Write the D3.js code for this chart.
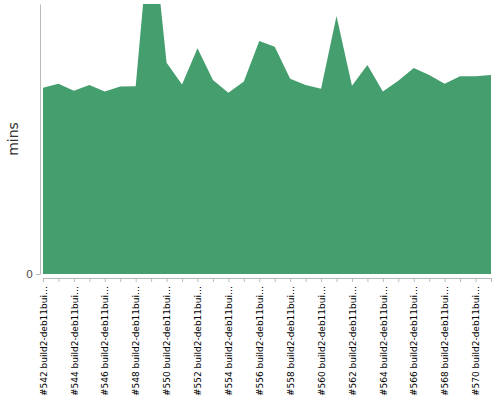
<html>
<head>
<meta charset="utf-8">
<script src="https://d3js.org/d3.v7.min.js"></script>
<style>
  body { margin: 0; font-family: "DejaVu Sans", sans-serif; }
</style>
</head>
<body>
<div id="chart"></div>
<script>
// build numbers (x categories)
var builds = d3.range(542, 572);
var labels = builds.map(function(b) { return "#" + b + " build2-deb11builder"; });
// build duration in minutes
var mins = [48.3, 49.3, 47.5, 49.0, 47.3, 48.6, 48.7, 93.3, 54.8, 49.1,
            58.5, 50.3, 47.0, 49.9, 60.4, 58.9, 50.6, 49.0, 48.0, 66.9,
            48.8, 54.2, 47.3, 50.1, 53.4, 51.6, 49.3, 51.3, 51.3, 51.6];
var yTicks = [0];

var width = 500, height = 400;
var plotLeft = 43, plotRight = 491, plotTop = 4, plotBottom = 274;

var svg = d3.select("#chart").append("svg")
  .attr("width", width)
  .attr("height", height);

var x = d3.scalePoint()
  .domain(labels)
  .range([plotLeft, plotRight]);

var y = d3.scaleLinear()
  .domain([0, 70])
  .range([plotBottom, plotTop]);

svg.append("clipPath").attr("id", "clip")
  .append("rect")
    .attr("x", plotLeft).attr("y", plotTop)
    .attr("width", plotRight - plotLeft).attr("height", plotBottom - plotTop);

var area = d3.area()
  .x(function(d, i) { return x(labels[i]); })
  .y0(y(0))
  .y1(function(d) { return y(d); });

svg.append("path")
  .datum(mins)
  .attr("clip-path", "url(#clip)")
  .attr("fill", "#459e6e")
  .attr("d", area);

// y axis
var yAxis = svg.append("g")
  .attr("transform", "translate(40,0)")
  .call(d3.axisLeft(y).tickValues(yTicks).tickSize(4).tickSizeOuter(0));
yAxis.select(".domain").attr("stroke", "#bbb");
yAxis.selectAll(".tick line").attr("stroke", "#bbb");
yAxis.selectAll(".tick text")
  .attr("fill", "#555")
  .style("font-size", "11px")
  .style("font-family", "DejaVu Sans, sans-serif")
  .attr("x", -7);

svg.append("text")
  .attr("transform", "translate(18," + ((plotTop + plotBottom) / 2) + ") rotate(-90)")
  .attr("text-anchor", "middle")
  .attr("fill", "#333")
  .style("font-size", "14px")
  .style("font-family", "DejaVu Sans, sans-serif")
  .text("mins");

// x axis
var xAxis = svg.append("g")
  .attr("transform", "translate(0,278)")
  .call(d3.axisBottom(x).tickSize(4).tickSizeOuter(0)
    .tickFormat(function(d, i) {
      if (i % 2) return "";
      return d.length > 20 ? d.slice(0, 20) + "…" : d;
    }));
xAxis.select(".domain").attr("stroke", "#bbb");
xAxis.selectAll(".tick line").attr("stroke", "#bbb");
xAxis.selectAll(".tick text")
  .attr("fill", "#000")
  .style("font-size", "9px")
  .style("font-family", "DejaVu Sans, sans-serif")
  .attr("transform", "rotate(-90)")
  .attr("text-anchor", "end")
  .attr("x", -8)
  .attr("y", 0)
  .attr("dy", "0.35em");
</script>
</body>
</html>
